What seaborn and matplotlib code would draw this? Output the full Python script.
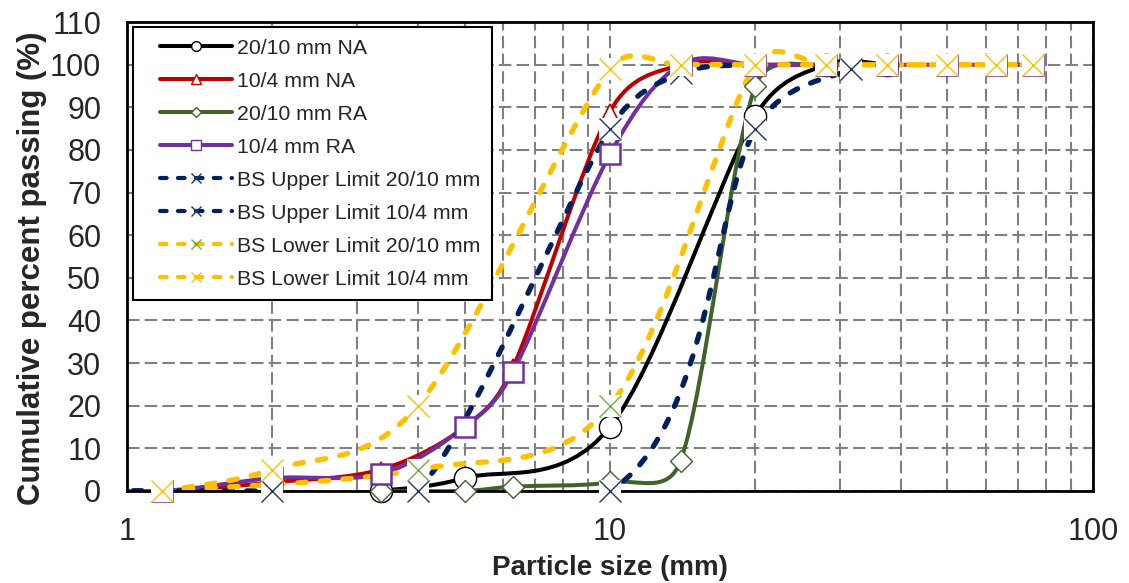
import numpy as np
import matplotlib
matplotlib.use("Agg")
import matplotlib.pyplot as plt
from matplotlib.path import Path
from matplotlib.patches import PathPatch
from matplotlib.lines import Line2D
from matplotlib.legend_handler import HandlerLine2D
import seaborn as sns

# sieve sizes (mm) and cumulative percent passing
na_20_10_x = [3.35, 5, 10, 20, 28, 37.5]
na_20_10_y = [0, 3, 15, 88, 100, 100]

na_10_4_x = [0.6, 1.18, 2, 3.35, 5, 6.3, 10, 14, 20, 28, 37.5]
na_10_4_y = [0, 0, 2, 5, 15, 29, 89, 100, 100, 100, 100]

ra_20_10_x = [3.35, 5, 6.3, 10, 14, 20, 28, 37.5]
ra_20_10_y = [0, 0, 1, 2, 7, 95, 100, 100]

ra_10_4_x = [0.6, 1.18, 2, 3.35, 5, 6.3, 10, 14, 20, 28, 37.5, 50, 63, 75]
ra_10_4_y = [0, 0, 3, 4, 15, 28, 79, 100, 100, 100, 100, 100, 100, 100]

up_20_10_x = [0.6, 1.18, 10, 20, 31.5]
up_20_10_y = [0, 0, 0, 85, 99]

up_10_4_x = [0.6, 2, 4, 10, 14, 20]
up_10_4_y = [0, 0, 0, 85, 98, 100]

lo_20_10_x = [1.18, 4, 10, 20, 28, 37.5, 50, 63, 75]
lo_20_10_y = [0, 5, 20, 100, 100, 100, 100, 100, 100]

lo_10_4_x = [1.18, 2, 4, 10, 14, 20, 28, 37.5, 50, 63, 75]
lo_10_4_y = [0, 5, 20, 99, 100, 100, 100, 100, 100, 100, 100]

labels = ["20/10 mm NA", "10/4 mm NA", "20/10 mm RA", "10/4 mm RA",
          "BS Upper Limit 20/10 mm", "BS Upper Limit 10/4 mm",
          "BS Lower Limit 20/10 mm", "BS Lower Limit 10/4 mm"]

series = [
    # x, y, line colour, dashed, marker, marker size, marker edge colour, edge width
    (na_20_10_x, na_20_10_y, "#000000", False, "o", 16, "#000000", 1.0),
    (na_10_4_x, na_10_4_y, "#C00000", False, "^", 11, "#C00000", 1.2),
    (ra_20_10_x, ra_20_10_y, "#41632A", False, "D", 11, "#41632A", 1.0),
    (ra_10_4_x, ra_10_4_y, "#7030A0", False, "s", 15, "#7030A0", 1.8),
    (up_20_10_x, up_20_10_y, "#002060", True, "x", 16, "#1F3864", 1.0),
    (up_10_4_x, up_10_4_y, "#002060", True, "x", 16, "#1F3864", 1.0),
    (lo_20_10_x, lo_20_10_y, "#FFC000", True, "x", 16, "#70AD47", 1.0),
    (lo_10_4_x, lo_10_4_y, "#FFC000", True, "x", 16, "#FFC000", 1.0),
]

# rough pixel size of one decade / one percent, used for the smoothing
SX, SY = 483.0, 4.264


def smooth_path(xs, ys):
    # Excel-style smoothed line: Bezier through the points, control arms
    # at 1/6 of the neighbour chord, capped at half the segment length
    px = np.log10(np.asarray(xs, float)) * SX
    py = np.asarray(ys, float) * SY
    pts = np.column_stack([px, py])
    n = len(pts)
    verts = [pts[0]]
    codes = [Path.MOVETO]
    for i in range(n - 1):
        p0, p1 = pts[max(i - 1, 0)], pts[i]
        p2, p3 = pts[i + 1], pts[min(i + 2, n - 1)]
        half = np.hypot(*(p2 - p1)) / 2
        a = (p2 - p0) / 6
        b = (p3 - p1) / 6
        la, lb = np.hypot(*a), np.hypot(*b)
        if la > half:
            a = a * half / la
        if lb > half:
            b = b * half / lb
        verts += [p1 + a, p2 - b, p2]
        codes += [Path.CURVE4] * 3
    verts = np.array(verts)
    verts[:, 0] = 10 ** (verts[:, 0] / SX)
    verts[:, 1] = verts[:, 1] / SY
    return Path(verts, codes)


class OffsetLineHandler(HandlerLine2D):
    # leaves some room on the left of each legend line, like Excel
    def create_artists(self, legend, orig_handle, xdescent, ydescent,
                       width, height, fontsize, trans):
        shift = 0.75 * fontsize
        return super().create_artists(legend, orig_handle, xdescent - shift,
                                      ydescent, width - shift, height,
                                      fontsize, trans)


sns.set_style("white")
plt.rcParams["font.family"] = ["Liberation Sans", "DejaVu Sans"]

fig, ax = plt.subplots(figsize=(11.29, 5.83), dpi=100)
fig.subplots_adjust(left=0.1125, right=0.968, top=0.962, bottom=0.158)
ax.set_xscale("log")

for k, (xs, ys, col, dashed, mk, ms, mec, mew) in enumerate(series):
    patch = PathPatch(smooth_path(xs, ys), fill=False, edgecolor=col,
                      lw=3.8 if dashed else 2.9, zorder=3 + k)
    if dashed:
        patch.set_linestyle((0, (1.6, 2.7)))
        patch.set_capstyle("round")
    ax.add_patch(patch)

    xs_in = [x for x in xs if x >= 1]
    ys_in = [y for x, y in zip(xs, ys) if x >= 1]
    if mk == "x":
        # white box behind the cross, as Excel draws it
        sns.lineplot(x=xs_in, y=ys_in, ax=ax, linestyle="none", marker="s",
                     markersize=ms * 0.95, markerfacecolor="white",
                     markeredgecolor="white", markeredgewidth=0,
                     clip_on=False, zorder=20 + 2 * k, legend=False)
        sns.lineplot(x=xs_in, y=ys_in, ax=ax, linestyle="none", marker="x",
                     markersize=ms, color=mec, markeredgecolor=mec,
                     markeredgewidth=mew, clip_on=False, zorder=21 + 2 * k,
                     legend=False)
    else:
        sns.lineplot(x=xs_in, y=ys_in, ax=ax, linestyle="none", marker=mk,
                     markersize=ms, markerfacecolor="white",
                     markeredgecolor=mec, markeredgewidth=mew,
                     clip_on=False, zorder=21 + 2 * k, legend=False)

ax.set_xlim(1, 100)
ax.set_ylim(0, 110)
ax.set_yticks(range(0, 111, 10))
ax.set_xticks([1, 10, 100])
ax.set_xticklabels(["1", "10", "100"])

ax.grid(True, which="both", axis="x", color="#808080", lw=1.5,
        linestyle=(0, (6, 2.5)))
ax.grid(True, which="major", axis="y", color="#808080", lw=1.5,
        linestyle=(0, (6, 2.5)))
ax.set_axisbelow(True)

for sp in ax.spines.values():
    sp.set_color("black")
    sp.set_linewidth(2)
    sp.set_visible(True)
    sp.set_zorder(15)

ax.tick_params(axis="both", which="major", direction="out", length=6.5,
               width=1.5, color="black", labelsize=22, pad=12)
ax.tick_params(axis="x", which="minor", length=0)
ax.tick_params(axis="x", which="major", pad=12)

ax.set_xlabel("Particle size (mm)", fontsize=20, fontweight="bold", labelpad=6)
ax.set_ylabel("Cumulative percent passing (%)", fontsize=22.5,
              fontweight="bold")
ax.yaxis.set_label_coords(-0.083, 0.475)

handles = []
for xs, ys, col, dashed, mk, ms, mec, mew in series:
    handles.append(Line2D([0], [0], color=col, lw=3 if dashed else 2.9,
                          linestyle=(0, (1.6, 2.7)) if dashed else "-",
                          dash_capstyle="round", marker=mk,
                          markersize=7 if mk != "D" else 5,
                          markerfacecolor="white", markeredgecolor=mec,
                          markeredgewidth=1.0))
leg = ax.legend(handles, labels, loc="upper left", bbox_to_anchor=(0.006, 0.99),
                borderaxespad=0, fontsize=15.3, frameon=True, fancybox=False,
                framealpha=1, edgecolor="black", handlelength=4.1,
                handletextpad=0.25, labelspacing=0.66, borderpad=0.55,
                handler_map={Line2D: OffsetLineHandler()})
leg.get_frame().set_linewidth(1.5)
leg.set_zorder(40)

fig.savefig("out.png", dpi=100)
